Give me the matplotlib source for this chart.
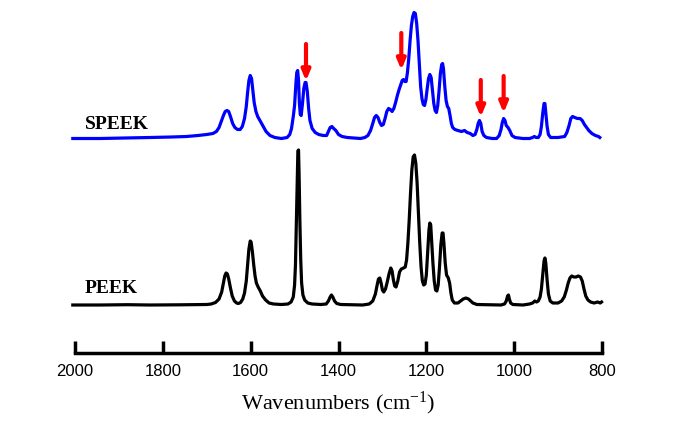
import matplotlib
matplotlib.use('Agg')
from matplotlib import pyplot as plt

plt.rcParams['mathtext.fontset'] = 'custom'
plt.rcParams['mathtext.rm'] = 'Liberation Serif'
plt.rcParams['mathtext.it'] = 'Liberation Serif:italic'

# PEEK spectrum (black), wavenumber vs absorbance (a.u.)
peek_wn = [2005, 1943, 1880, 1829, 1760, 1700, 1690, 1680, 1672, 1666, 1662, 1659,
           1656, 1653, 1650, 1646, 1642, 1637, 1632, 1628, 1623, 1618, 1614, 1610,
           1607, 1604, 1601, 1599, 1596, 1593, 1590, 1587, 1583, 1578, 1573, 1566,
           1558, 1548, 1530, 1515, 1508, 1503, 1500, 1498, 1496, 1494, 1492.5, 1491,
           1489.5, 1488, 1486, 1484, 1481, 1477, 1470, 1460, 1440, 1428, 1423, 1419,
           1416, 1413, 1409, 1404, 1395, 1345, 1330, 1322, 1316, 1312, 1309, 1306,
           1303, 1300, 1297, 1293, 1289, 1285, 1281, 1278, 1275, 1272, 1269, 1265,
           1261, 1257, 1252, 1248, 1245, 1242, 1239, 1236, 1233, 1230, 1227, 1224,
           1221, 1218, 1215, 1212, 1209, 1206, 1203, 1200, 1197, 1194, 1192, 1190,
           1188, 1185, 1182, 1179, 1176, 1173, 1170, 1167, 1164, 1162, 1160, 1157,
           1154, 1150, 1147, 1144, 1141, 1136, 1128, 1122, 1116, 1110, 1104, 1099,
           1094, 1085, 1030, 1022, 1018, 1015, 1013, 1011, 1008, 1003, 980, 965,
           958, 953, 949, 945, 941, 938, 935, 932, 930, 928, 925, 922, 918, 912,
           900, 892, 886, 881, 877, 873, 869, 864, 859, 854, 849, 845, 841, 837,
           832, 826, 818, 810, 804, 801]
peek_abs = [0.00, 0.00, 0.003, 0.00, 0.002, 0.005, 0.01, 0.025, 0.06, 0.13, 0.22, 0.29,
            0.32, 0.31, 0.26, 0.17, 0.09, 0.04, 0.02, 0.015, 0.025, 0.06, 0.12, 0.24,
            0.40, 0.56, 0.64, 0.63, 0.53, 0.40, 0.29, 0.22, 0.18, 0.14, 0.09, 0.05,
            0.02, 0.01, 0.005, 0.01, 0.03, 0.08, 0.20, 0.40, 0.80, 1.25, 1.54, 1.55,
            1.25, 0.85, 0.45, 0.22, 0.10, 0.05, 0.02, 0.01, 0.005, 0.01, 0.04, 0.08,
            0.10, 0.08, 0.04, 0.015, 0.005, 0.00, 0.01, 0.04, 0.11, 0.20, 0.26, 0.27,
            0.22, 0.15, 0.13, 0.16, 0.23, 0.31, 0.37, 0.34, 0.25, 0.19, 0.18, 0.24,
            0.33, 0.36, 0.37, 0.38, 0.45, 0.62, 0.85, 1.12, 1.35, 1.48, 1.50, 1.42,
            1.22, 0.92, 0.62, 0.38, 0.24, 0.20, 0.21, 0.30, 0.52, 0.75, 0.82, 0.80,
            0.65, 0.42, 0.24, 0.15, 0.14, 0.20, 0.38, 0.60, 0.72, 0.72, 0.62, 0.42,
            0.30, 0.27, 0.22, 0.12, 0.05, 0.02, 0.02, 0.04, 0.06, 0.07, 0.06, 0.04,
            0.02, 0.005, 0.00, 0.01, 0.04, 0.09, 0.10, 0.06, 0.02, 0.005, 0.00, 0.01,
            0.02, 0.04, 0.03, 0.04, 0.08, 0.16, 0.30, 0.44, 0.47, 0.42, 0.25, 0.11, 0.04, 0.02,
            0.02, 0.04, 0.08, 0.15, 0.22, 0.27, 0.29, 0.28, 0.28, 0.29, 0.28, 0.24, 0.16, 0.09,
            0.05, 0.03, 0.02, 0.03, 0.02, 0.03]

# SPEEK spectrum (blue)
speek_wn = [2005, 1943, 1880, 1829, 1780, 1746, 1720, 1700, 1686, 1678, 1672, 1667,
            1662, 1658, 1654, 1650, 1646, 1641, 1636, 1630, 1624, 1619, 1614, 1610,
            1607, 1604, 1601, 1598, 1595, 1592, 1588, 1584, 1579, 1573, 1565, 1556,
            1545, 1530, 1517, 1511, 1507, 1503, 1500, 1497, 1495, 1493, 1491, 1489,
            1487, 1485, 1482, 1479, 1476, 1474, 1471, 1468, 1465, 1460, 1453, 1445,
            1435, 1427, 1423, 1419, 1415, 1411, 1406, 1400, 1392, 1380, 1350, 1340,
            1333, 1327, 1322, 1318, 1314, 1310, 1306, 1302, 1298, 1294, 1290, 1286,
            1282, 1278, 1274, 1270, 1266, 1262, 1258, 1255, 1252, 1249, 1246, 1243,
            1240, 1237, 1234, 1231, 1228, 1225, 1222, 1219, 1216, 1213, 1210, 1207,
            1204, 1201, 1198, 1195, 1192, 1189, 1186, 1183, 1180, 1177, 1174, 1171,
            1168, 1165, 1163, 1161, 1158, 1155, 1152, 1149, 1146, 1143, 1140, 1135,
            1128, 1120, 1113, 1107, 1100, 1094, 1089, 1085, 1082, 1079, 1076, 1073,
            1069, 1063, 1050, 1040, 1034, 1030, 1027, 1024, 1021, 1018, 1014, 1010,
            1005, 998, 980, 965, 958, 954, 950, 945, 941, 938, 935, 932, 930, 928,
            925, 922, 917, 900, 885, 880, 875, 871, 867, 862, 856, 850, 845, 840,
            835, 830, 823, 815, 808, 805]
speek_abs = [0.00, 0.00, 0.005, 0.01, 0.015, 0.02, 0.03, 0.04, 0.05, 0.07, 0.11, 0.17,
             0.23, 0.27, 0.28, 0.27, 0.22, 0.15, 0.11, 0.09, 0.09, 0.12, 0.20, 0.32,
             0.46, 0.58, 0.63, 0.60, 0.48, 0.36, 0.27, 0.22, 0.18, 0.13, 0.07, 0.03,
             0.01, 0.00, 0.01, 0.04, 0.10, 0.22, 0.33, 0.55, 0.66, 0.68, 0.58, 0.35,
             0.24, 0.23, 0.35, 0.50, 0.56, 0.56, 0.47, 0.30, 0.18, 0.10, 0.06, 0.04,
             0.03, 0.03, 0.07, 0.11, 0.12, 0.10, 0.08, 0.04, 0.02, 0.01, 0.00, 0.01,
             0.03, 0.08, 0.15, 0.21, 0.23, 0.21, 0.16, 0.13, 0.14, 0.20, 0.27, 0.30,
             0.29, 0.27, 0.30, 0.36, 0.43, 0.49, 0.54, 0.58, 0.59, 0.57, 0.57, 0.66,
             0.80, 0.98, 1.13, 1.22, 1.26, 1.25, 1.15, 0.98, 0.75, 0.52, 0.40, 0.34,
             0.33, 0.39, 0.50, 0.60, 0.64, 0.61, 0.48, 0.35, 0.28, 0.26, 0.33, 0.48,
             0.65, 0.74, 0.75, 0.70, 0.52, 0.38, 0.32, 0.30, 0.23, 0.15, 0.11, 0.09,
             0.08, 0.07, 0.08, 0.06, 0.05, 0.03, 0.04, 0.09, 0.15, 0.18, 0.15, 0.07,
             0.03, 0.01, 0.00, 0.00, 0.03, 0.09, 0.16, 0.20, 0.18, 0.13, 0.11, 0.08,
             0.03, 0.01, 0.00, 0.00, 0.01, 0.02, 0.01, 0.01, 0.04, 0.12, 0.25, 0.35, 0.35, 0.26,
             0.12, 0.04, 0.01, 0.01, 0.02, 0.06, 0.13, 0.20, 0.22, 0.21, 0.20, 0.20, 0.18, 0.14,
             0.11, 0.08, 0.05, 0.03, 0.02, 0.01]
speek_offset = 1.665

# new bands marked with red arrows
arrow_wn = [1474, 1257, 1076, 1024]
arrow_tip = [2.24, 2.35, 1.88, 1.92]

xticks = [2000, 1800, 1600, 1400, 1200, 1000, 800]

fig = plt.figure(figsize=(6.84, 4.33), dpi=100)
ax = fig.add_axes([75 / 684, 80 / 433, 527 / 684, 353 / 433])

ax.plot(peek_wn, peek_abs, color='black', linewidth=2.3, clip_on=False,
        solid_joinstyle='round')
ax.plot(speek_wn, [v + speek_offset for v in speek_abs], color='#0000ff',
        linewidth=2.3, clip_on=False, solid_joinstyle='round')

for w, t in zip(arrow_wn, arrow_tip):
    ax.annotate('', xy=(w, t), xytext=(w, t + 0.37),
                arrowprops=dict(arrowstyle='-|>,head_length=0.6,head_width=0.25',
                                color='red', linewidth=3, shrinkA=0, shrinkB=0))

ax.text(1977, 1.76, 'SPEEK', fontsize=14, fontweight='bold',
        family='Liberation Serif', va='baseline')
ax.text(1977, 0.12, 'PEEK', fontsize=14, fontweight='bold',
        family='Liberation Serif', va='baseline')

ax.set_xlim(2000, 800)
ax.set_ylim(-0.48, 3.05)
ax.set_xticks(xticks)
ax.set_xticklabels([str(x) for x in xticks], family='Liberation Sans', fontsize=12)
ax.set_yticks([])
for s in ['top', 'right', 'left']:
    ax.spines[s].set_visible(False)
ax.spines['bottom'].set_linewidth(2.5)
ax.tick_params(axis='x', direction='in', length=9, width=2.5, pad=8)
ax.set_xlabel(r'Wavenumbers (cm$^{\mathrm{-1}}$)', family='Liberation Serif',
              fontsize=16, labelpad=8)
ax.patch.set_visible(False)

fig.savefig('out.png', dpi=100)
